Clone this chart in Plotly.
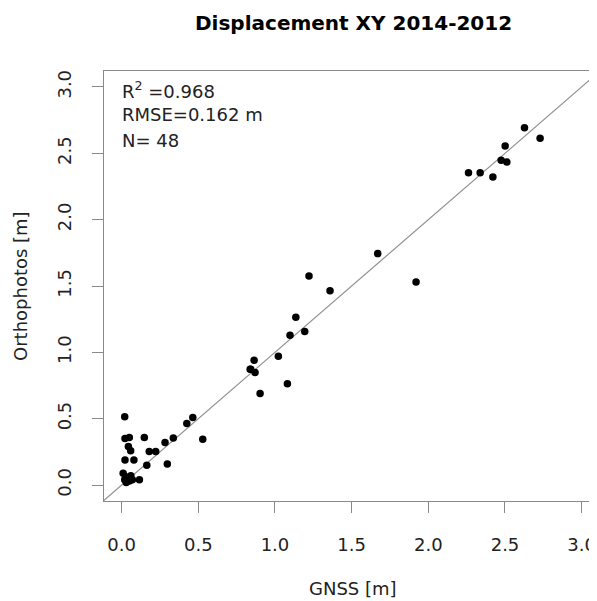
import plotly.graph_objects as go

# GNSS (x) vs Orthophotos (y) displacement [m]
gnss = [2.627, 2.729, 2.501, 2.475, 2.512, 2.262, 2.338, 2.421,
        1.670, 1.222, 1.359, 1.136, 1.098, 1.194, 1.022, 0.864, 0.842, 0.870, 1.081, 0.903, 1.920, 0.838,
        0.020, 0.022, 0.050, 0.148, 0.044, 0.059, 0.022, 0.080, 0.180, 0.222, 0.283, 0.337, 0.425, 0.464,
        0.529, 0.164, 0.298, 0.116,
        0.010, 0.030, 0.020, 0.050, 0.040, 0.060, 0.030, 0.070]
ortho = [2.693, 2.613, 2.555, 2.447, 2.434, 2.354, 2.354, 2.321,
         1.744, 1.576, 1.465, 1.265, 1.129, 1.157, 0.971, 0.941, 0.873, 0.848, 0.763, 0.690, 1.530, 0.873,
         0.515, 0.350, 0.358, 0.358, 0.290, 0.258, 0.188, 0.188, 0.253, 0.253, 0.321, 0.354, 0.464, 0.509,
         0.346, 0.150, 0.158, 0.040,
         0.090, 0.060, 0.040, 0.030, 0.050, 0.070, 0.020, 0.040]

title = "Displacement XY 2014-2012"
xlabel = "GNSS [m]"
ylabel = "Orthophotos [m]"
stats = ["R<sup>2</sup> =0.968", "RMSE=0.162 m", "N= 48"]
tick_vals = [0.0, 0.5, 1.0, 1.5, 2.0, 2.5, 3.0]
tick_text = ["0.0", "0.5", "1.0", "1.5", "2.0", "2.5", "3.0"]
lim = [-0.12, 3.12]

FONT = "DejaVu Sans"
GRAY = "#8a8a8a"

fig = go.Figure()
fig.add_trace(go.Scatter(x=lim, y=lim, mode="lines",
                         line=dict(color="#909090", width=1.2), hoverinfo="skip"))
fig.add_trace(go.Scatter(x=gnss, y=ortho, mode="markers",
                         marker=dict(color="black", size=7.5, line=dict(width=0))))

axis_common = dict(tickvals=tick_vals, ticktext=tick_text, ticks="outside", ticklen=11,
                   tickcolor=GRAY, tickwidth=1, showgrid=False, zeroline=False,
                   showline=True, linecolor=GRAY, linewidth=1,
                   tickfont=dict(family=FONT, size=18, color="#222"))

# the page body adds an 8px offset, so the figure is drawn 8px smaller
fig.update_layout(
    width=589, height=593,
    margin=dict(l=96, r=0, t=63, b=100),
    plot_bgcolor="white", paper_bgcolor="white",
    showlegend=False,
    xaxis=dict(range=[-0.115, 3.10], mirror=True, ticklabelstandoff=16, **axis_common),
    yaxis=dict(range=lim, tickangle=-90, ticklabelstandoff=14, **axis_common),
)

ann = []
ann.append(dict(text="<b>" + title + "</b>", xref="paper", yref="paper", x=0.5, y=1,
                xshift=3, yshift=48, xanchor="center", yanchor="middle", showarrow=False,
                font=dict(family=FONT, size=20, color="black")))
ann.append(dict(text=xlabel, xref="paper", yref="paper", x=0.5, y=0, xshift=2, yshift=-87,
                xanchor="center", yanchor="middle", showarrow=False,
                font=dict(family=FONT, size=18, color="#222")))
ann.append(dict(text=ylabel, xref="paper", yref="paper", x=0, y=0.5, xshift=-84,
                xanchor="center", yanchor="middle", textangle=-90, showarrow=False,
                font=dict(family=FONT, size=18, color="#222")))
for i, s in enumerate(stats):
    ann.append(dict(text=s, xref="paper", yref="paper", x=0, y=1, xshift=16,
                    yshift=[-19, -43, -69][i], xanchor="left", yanchor="middle",
                    showarrow=False, font=dict(family=FONT, size=18, color="#222")))
fig.update_layout(annotations=ann)

fig.write_html("out.html")
